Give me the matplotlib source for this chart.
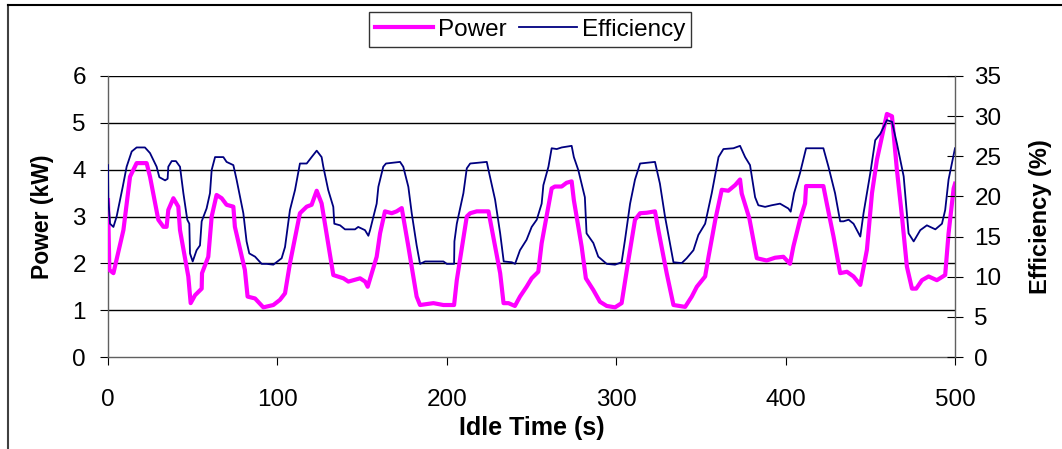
import matplotlib.pyplot as plt
from matplotlib.lines import Line2D

plt.rcParams['font.family'] = ['Liberation Sans', 'DejaVu Sans']

# Power (kW)
t_power = [0, 0.8, 3.2, 9.1, 13, 16.9, 22.8, 24.8, 29.7, 32.7, 34.6, 35.6, 38.6, 41.5, 42.5,
           47.4, 48.8, 51.4, 55.3, 55.5, 59.2, 61.2, 64.1, 67.1, 70, 74, 74.9, 80.8, 82.4,
           86.8, 91.7, 97.6, 101.5, 104.5, 107.4, 113.3, 117.3, 120.2, 123.2, 126.1, 133,
           139, 141.9, 148.8, 151.8, 153.3, 158.6, 160.6, 163.5, 167.5, 170.4, 173.4, 177.3,
           182.2, 184.2, 192.1, 198, 204.3, 205.9, 211.8, 213.8, 217.7, 224.6, 227.6, 231.5,
           233.5, 236.4, 240.2, 243.2, 247.1, 250.1, 254, 256, 258.9, 261.9, 263.8, 267.8,
           270.7, 273.7, 275, 279.6, 282.1, 286.5, 290.4, 294.4, 299.3, 303.2, 307.2, 311.1,
           314.1, 318, 322.9, 324.9, 329.8, 333.8, 340.7, 344.6, 347.6, 352.5, 354.5, 358.5,
           362.3, 366.2, 370.2, 373.1, 374.1, 378.6, 381, 383, 388.8, 393.8, 398.7, 402.6,
           404.6, 408.5, 411.5, 412.1, 422.3, 424.3, 428.3, 432.2, 436.2, 440.1, 444.1, 448,
           451, 453.9, 456.9, 459.8, 462.8, 465.7, 468.7, 471.6, 474.6, 477.1, 480.5, 484.4,
           489.3, 494.2, 496.2, 499.2, 500]
power = [3.35, 1.86, 1.79, 2.71, 3.85, 4.14, 4.14, 3.85, 2.93, 2.78, 2.78, 3.14, 3.39, 3.21, 2.71,
         1.72, 1.15, 1.32, 1.46, 1.79, 2.14, 3.0, 3.46, 3.39, 3.25, 3.21, 2.78, 1.86, 1.29,
         1.25, 1.06, 1.11, 1.22, 1.36, 2.0, 3.07, 3.21, 3.25, 3.55, 3.28, 1.75,
         1.68, 1.61, 1.68, 1.61, 1.50, 2.14, 2.64, 3.11, 3.07, 3.11, 3.18, 2.36,
         1.29, 1.11, 1.15, 1.11, 1.11, 1.64, 3.0, 3.07, 3.11, 3.11, 2.54, 1.79,
         1.15, 1.15, 1.09, 1.29, 1.50, 1.68, 1.82, 2.43, 3.0, 3.6, 3.64, 3.64,
         3.72, 3.75, 3.35, 2.36, 1.68, 1.43, 1.18, 1.09, 1.06, 1.15, 2.07, 2.93,
         3.07, 3.08, 3.11, 2.71, 1.79, 1.11, 1.07, 1.29, 1.50, 1.72, 2.14, 2.93,
         3.57, 3.55, 3.67, 3.79, 3.49, 2.96, 2.50, 2.11, 2.06, 2.12, 2.14, 1.99,
         2.36, 2.93, 3.28, 3.65, 3.65, 3.28, 2.57, 1.79, 1.82, 1.72, 1.54, 2.29,
         3.50, 4.21, 4.71, 5.19, 5.14, 4.0, 3.0, 1.93, 1.46, 1.46, 1.64, 1.72,
         1.64, 1.75, 2.64, 3.6, 3.7]

# Efficiency (%)
t_eff = [0, 0.2, 1.2, 3.2, 5.1, 8.7, 11, 14, 16.9, 21.8, 24.8, 28.7, 30.3, 33.7, 35.2, 35.6,
         37.6, 40.1, 42.5, 44.5, 46.8, 48, 48.4, 50, 52.3, 54.3, 55.3, 58.2, 60.2, 61.2, 63.2,
         68.1, 70, 74, 75.9, 79.9, 81.8, 83.4, 86.8, 90.7, 93.7, 97.6, 102.5, 104.5, 107.4,
         110.4, 113.3, 117.3, 120.2, 123.2, 126.1, 127.1, 130, 133, 133.6, 137, 139.9, 145.8,
         147.7, 151.7, 153.7, 154.7, 158.6, 159.6, 162.5, 164.1, 172.4, 174.3, 177.3, 179.3,
         182.2, 184.2, 187.2, 198, 200, 204.3, 204.5, 205.9, 209.8, 211.8, 213.8, 223.6,
         224.6, 228.5, 231.5, 233.6, 238.4, 240.3, 243.2, 247.1, 250.1, 253.1, 256, 257,
         260, 261.9, 264.9, 267.8, 273.7, 275, 277.6, 281.5, 282.5, 286.5, 289.4, 294.4,
         299.3, 303.2, 305.2, 308.2, 311.1, 314.1, 322.9, 325.8, 328.8, 333.8, 338.7,
         341.6, 345.6, 348.5, 352.5, 356.4, 360.4, 363.3, 369.2, 373.1, 376.1, 379, 382,
         383.9, 387.9, 391.8, 396.7, 401.6, 403, 405, 408.5, 412.1, 422.3, 425.3, 429.2,
         432.2, 434.2, 437.2, 440.1, 444.1, 446, 450, 452.9, 455.9, 459.8, 462.8, 465.7,
         469.7, 472.6, 475.6, 479.5, 483.4, 488.4, 492.3, 494.2, 496.2, 500]
efficiency = [23.9, 19.6, 16.6, 16.2, 17.5, 21.2, 23.7, 25.6, 26.1, 26.1, 25.4, 23.7, 22.4, 22.0, 22.2, 23.7,
              24.4, 24.4, 23.7, 20.4, 17.1, 16.6, 12.9, 11.9, 13.3, 13.9, 16.9, 18.5, 20.4, 23.3, 24.9,
              24.9, 24.3, 23.9, 22.1, 17.9, 14.4, 12.9, 12.5, 11.6, 11.6, 11.5, 12.3, 13.7, 18.3,
              20.8, 24.1, 24.1, 24.9, 25.7, 24.9, 23.7, 20.8, 18.7, 16.6, 16.4, 15.9, 15.9,
              16.2, 15.8, 15.1, 15.8, 19.1, 21.2, 23.7, 24.1, 24.3, 23.7, 21.2, 17.9,
              13.9, 11.6, 11.9, 11.9, 11.6, 11.6, 14.4, 16.6, 20.4, 23.5, 24.1, 24.3,
              23.3, 19.6, 15.4, 11.9, 11.8, 11.6, 13.3, 14.6, 16.2, 17.1, 19.1, 21.4,
              23.7, 26.0, 25.9, 26.1, 26.3, 24.9, 23.3, 19.9, 15.4, 14.2, 12.5, 11.6,
              11.5, 11.8, 14.6, 19.1, 22.1, 24.1, 24.3, 21.6, 17.5, 11.8, 11.7,
              12.3, 13.3, 15.2, 16.6, 20.4, 24.9, 25.9, 26.0, 26.3, 24.9, 23.9, 19.9,
              18.9, 18.7, 18.9, 19.1, 18.5, 18.1, 20.4, 22.9, 26.0, 26.0, 23.7, 20.4,
              16.9, 16.9, 17.1, 16.6, 15.0, 17.9, 22.9, 27.0, 27.8, 29.5, 29.3, 26.6,
              22.5, 15.4, 14.4, 15.8, 16.4, 15.9, 16.6, 18.3, 22.1, 26.0]

power_ticks = [0, 1, 2, 3, 4, 5, 6]
eff_ticks = [0, 5, 10, 15, 20, 25, 30, 35]
time_ticks = [0, 100, 200, 300, 400, 500]

fig = plt.figure(figsize=(10.62, 4.49), dpi=100)
ax = fig.add_axes([108 / 1062, 1 - 357 / 449, 847 / 1062, 281 / 449])
ax2 = ax.twinx()

ax.plot(t_power, power, color='#FF00FF', lw=3.0, solid_joinstyle='round', zorder=3)
ax2.plot(t_eff, efficiency, color='#000080', lw=1.3, zorder=2)

ax.set_xlim(0, 500)
ax.set_ylim(0, 6)
ax2.set_ylim(0, 35)
ax.set_xticks(time_ticks)
ax.set_yticks(power_ticks)
ax2.set_yticks(eff_ticks)

for y in power_ticks[1:]:
    ax.axhline(y, color='black', lw=1.0, zorder=1)

for a in (ax, ax2):
    a.spines['top'].set_visible(False)
    for s in a.spines.values():
        s.set_color('#606060')
        s.set_linewidth(1.0)
ax.spines['right'].set_visible(False)
ax2.spines['left'].set_visible(False)
ax2.spines['bottom'].set_visible(False)

ax.tick_params(axis='y', direction='out', length=6, pad=10, labelsize=17.5)
ax.tick_params(axis='x', direction='out', length=6, pad=17, labelsize=17.5)
ax2.tick_params(axis='y', direction='inout', length=12, pad=8, labelsize=17.5)

ax.set_ylabel('Power (kW)', fontsize=16.5, fontweight='bold', labelpad=13)
ax2.set_ylabel('Efficiency (%)', fontsize=17, fontweight='bold', labelpad=20)
ax.set_xlabel('Idle Time (s)', fontsize=18, fontweight='bold', labelpad=4)

handles = [Line2D([], [], color='#FF00FF', lw=3.0), Line2D([], [], color='#000080', lw=1.3)]
fig.legend(handles, ['Power', 'Efficiency'], loc='center', bbox_to_anchor=(530 / 1062, 1 - 29.5 / 449),
           ncol=2, fontsize=17.5, frameon=True, fancybox=False, edgecolor='black',
           handlelength=2.4, handletextpad=0.2, columnspacing=0.5, borderpad=0.25)

# chart frame lines (left and top)
fig.add_artist(Line2D([8 / 1062, 8 / 1062], [0, 1 - 5 / 449], color='#404040', lw=1.5,
                      transform=fig.transFigure))
fig.add_artist(Line2D([8 / 1062, 1], [1 - 5 / 449, 1 - 5 / 449], color='black', lw=1.5,
                      transform=fig.transFigure))

fig.savefig('out.png', dpi=100)
